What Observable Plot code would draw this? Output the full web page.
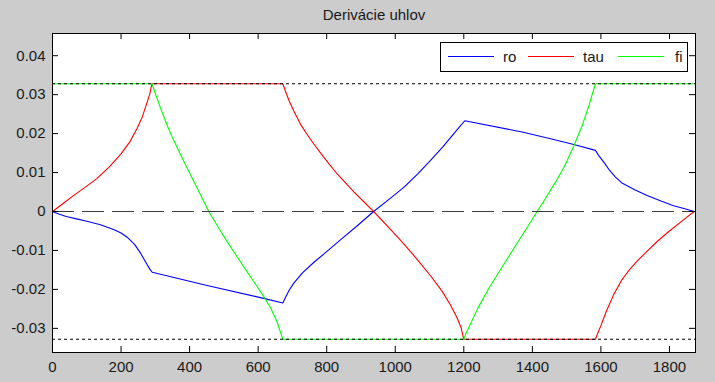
<!DOCTYPE html>
<html>
<head>
<meta charset="utf-8">
<script src="https://cdn.jsdelivr.net/npm/d3@7"></script>
<script src="https://cdn.jsdelivr.net/npm/@observablehq/plot@0.6"></script>
<style>
  html, body { margin: 0; padding: 0; background: #cccccc; }
  #wrap { position: relative; width: 715px; height: 382px; background: #cccccc; }
  #legend { position: absolute; left: 440px; top: 42px; }
</style>
</head>
<body>
<div id="wrap"></div>
<script>
// ---- data ----
const titleText = "Derivácie uhlov";
const seriesNames = ["ro", "tau", "fi"];
const seriesColors = ["#0000ff", "#ff0000", "#00ff00"];

const roT = [0, 20, 40, 70, 100, 140, 180, 200, 218, 240, 257, 275, 284, 291, 451, 616, 672, 680, 690, 704, 730, 762, 800, 840, 890, 937, 980, 1025, 1065, 1103, 1140, 1171, 1190, 1203, 1370, 1453, 1521, 1584, 1595, 1610, 1625, 1642, 1660, 1700, 1735, 1775, 1812, 1845, 1872];
const roV = [0, -0.0007, -0.0013, -0.0019, -0.0025, -0.0034, -0.0047, -0.0055, -0.0066, -0.0085, -0.0107, -0.0135, -0.0148, -0.0156, -0.0190, -0.0223, -0.0235, -0.0220, -0.0203, -0.0184, -0.0157, -0.0131, -0.0103, -0.0073, -0.0036, 0, 0.0030, 0.0062, 0.0096, 0.0131, 0.0167, 0.0200, 0.0220, 0.0233, 0.0204, 0.0187, 0.0172, 0.0157, 0.0142, 0.0125, 0.0106, 0.0089, 0.0074, 0.0055, 0.0041, 0.0027, 0.0015, 0.0007, 0];

const tauT = [0, 30, 60, 95, 130, 165, 200, 225, 247, 262, 276, 284, 290, 672, 680, 690, 704, 723, 742, 762, 790, 830, 880, 937, 980, 1025, 1065, 1103, 1137, 1161, 1180, 1192, 1200, 1584, 1592, 1600, 1615, 1637, 1660, 1681, 1705, 1730, 1764, 1800, 1840, 1872];
const tauV = [0, 0.0020, 0.0040, 0.0062, 0.0085, 0.0114, 0.0148, 0.0178, 0.0214, 0.0243, 0.0280, 0.0302, 0.0328, 0.0328, 0.0308, 0.0285, 0.0258, 0.0225, 0.0199, 0.0174, 0.0141, 0.0097, 0.0050, 0, -0.0040, -0.0083, -0.0124, -0.0165, -0.0205, -0.0240, -0.0272, -0.0298, -0.0328, -0.0328, -0.0310, -0.0293, -0.0258, -0.0214, -0.0177, -0.0152, -0.0128, -0.0106, -0.0077, -0.0050, -0.0022, 0];

const fiT = [0, 290, 300, 315, 335, 354, 378, 403, 430, 456, 483, 510, 540, 568, 595, 616, 635, 655, 672, 1200, 1207, 1215, 1240, 1273, 1310, 1351, 1382, 1414, 1440, 1468, 1495, 1521, 1545, 1565, 1584, 1872];
const fiV = [0.0328, 0.0328, 0.0303, 0.0266, 0.0220, 0.0182, 0.0138, 0.0094, 0.0046, 0, -0.0040, -0.0078, -0.0118, -0.0155, -0.0190, -0.0218, -0.0245, -0.0283, -0.0328, -0.0328, -0.0312, -0.0297, -0.0250, -0.0197, -0.0145, -0.0088, -0.0045, 0, 0.0036, 0.0076, 0.0118, 0.0168, 0.0220, 0.0272, 0.0328, 0.0328];

const limitHi = 0.0328;
const limitLo = -0.0328;
const xTicks = [0, 200, 400, 600, 800, 1000, 1200, 1400, 1600, 1800];
const yTicks = [-0.03, -0.02, -0.01, 0, 0.01, 0.02, 0.03, 0.04];
const xDomain = [0, 1876];
const yDomain = [-0.0362, 0.0457];

// ---- layout ----
const W = 715, H = 382;
const mL = 52, mR = 20, mT = 33, mB = 30;
const innerH = H - mT - mB;
const innerW = W - mL - mR;
const tickLen = 6;

const toRows = (T, V) => T.map((t, i) => ({t, v: V[i]}));
const series = [toRows(roT, roV), toRows(tauT, tauV), toRows(fiT, fiV)];

const chart = Plot.plot({
  width: W,
  height: H,
  marginLeft: mL,
  marginRight: mR,
  marginTop: mT,
  marginBottom: mB,
  style: {
    background: "#cccccc",
    fontFamily: "'Liberation Sans', Arial, sans-serif",
    fontSize: "15px",
    color: "#1a1a1a"
  },
  x: {domain: xDomain, label: null},
  y: {domain: yDomain, label: null},
  marks: [
    Plot.frame({fill: "white", stroke: "none"}),
    ...series.map((rows, i) => Plot.line(rows, {x: "t", y: "v", stroke: seriesColors[i], strokeWidth: 1.1})),
    Plot.ruleY([limitHi, limitLo], {stroke: "black", strokeWidth: 1, strokeDasharray: "3,3"}),
    Plot.ruleY([0], {stroke: "#3a3a3a", strokeWidth: 1, strokeDasharray: "22,8"}),
    Plot.frame({stroke: "black", strokeWidth: 1}),
    Plot.tickX(xTicks, {x: d => d, insetTop: innerH - tickLen, stroke: "black"}),
    Plot.tickX(xTicks, {x: d => d, insetBottom: innerH - tickLen, stroke: "black"}),
    Plot.tickY(yTicks, {y: d => d, insetRight: innerW - tickLen, stroke: "black"}),
    Plot.tickY(yTicks, {y: d => d, insetLeft: innerW - tickLen, stroke: "black"}),
    Plot.axisX(xTicks, {tickSize: 0, tickPadding: 9, tickFormat: d => String(d), fill: "#1a1a1a", fontSize: 15}),
    Plot.axisY(yTicks, {tickSize: 0, tickPadding: 7, tickFormat: d => String(d), fill: "#1a1a1a", fontSize: 15}),
    Plot.text([titleText], {text: d => d, frameAnchor: "top", dy: -18, lineAnchor: "middle", fontSize: 15, fill: "#1a1a1a"})
  ]
});

const wrap = document.getElementById("wrap");
wrap.appendChild(chart);

// legend (HTML overlay with SVG swatches)
const ns = "http://www.w3.org/2000/svg";
const leg = document.createElementNS(ns, "svg");
leg.setAttribute("id", "legend");
leg.setAttribute("width", 249);
leg.setAttribute("height", 31);
leg.style.fontFamily = "'Liberation Sans', Arial, sans-serif";
const box = document.createElementNS(ns, "rect");
box.setAttribute("x", 0.5); box.setAttribute("y", 0.5);
box.setAttribute("width", 247); box.setAttribute("height", 29);
box.setAttribute("fill", "white"); box.setAttribute("stroke", "black");
leg.appendChild(box);
const swX = [8, 88, 178];
const txX = [63, 143, 235];
seriesNames.forEach((name, i) => {
  const ln = document.createElementNS(ns, "line");
  ln.setAttribute("x1", swX[i]); ln.setAttribute("x2", swX[i] + 46);
  ln.setAttribute("y1", 14.5); ln.setAttribute("y2", 14.5);
  ln.setAttribute("stroke", seriesColors[i]); ln.setAttribute("stroke-width", 1.1);
  leg.appendChild(ln);
  const tx = document.createElementNS(ns, "text");
  tx.setAttribute("x", txX[i]); tx.setAttribute("y", 20);
  tx.setAttribute("font-size", 15); tx.setAttribute("fill", "#1a1a1a");
  tx.textContent = name;
  leg.appendChild(tx);
});
wrap.appendChild(leg);
</script>
</body>
</html>
